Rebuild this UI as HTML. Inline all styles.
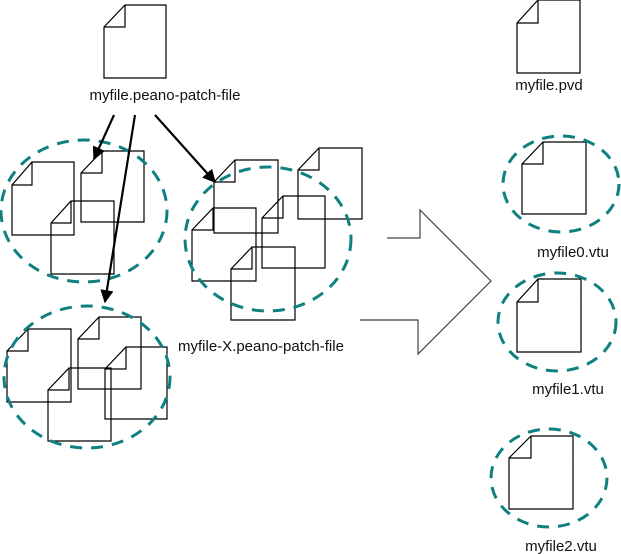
<!DOCTYPE html>
<html><head><meta charset="utf-8"><style>
html,body{margin:0;padding:0;background:#fff;}
svg{display:block;}
text{font-family:"Liberation Sans",sans-serif;font-size:15px;fill:#111;}
</style></head><body>
<svg width="621" height="554" viewBox="0 0 621 554" xmlns="http://www.w3.org/2000/svg">
<defs>
<marker id="ah" viewBox="0 0 10 10" refX="9" refY="5" markerWidth="6" markerHeight="6" orient="auto"><path d="M0,0 L10,5 L0,10 z" fill="#000"/></marker>
</defs>
<g fill="none" stroke="#000" stroke-width="1.2">
<path d="M125,5H166V78H104V27Z M125,5V27H104"/>
<path d="M538,0H580V73H517V23Z M538,0V23H517"/>
<path d="M543,142H586V214H522V164Z M543,142V164H522"/>
<path d="M538,279H581V352H517V302Z M538,279V302H517"/>
<path d="M531,436H573V509H509V458Z M531,436V458H509"/>
<path d="M32,162H74V235H12V185Z M32,162V185H12"/>
<path d="M102,151H144V222H81V173Z M102,151V173H81"/>
<path d="M71,201H114V274H51V223Z M71,201V223H51"/>
<path d="M28,329H71V402H7V351Z M28,329V351H7"/>
<path d="M99,317H141V389H78V339Z M99,317V339H78"/>
<path d="M69,368H111V441H48V390Z M69,368V390H48"/>
<path d="M126,347H167V419H105V369Z M126,347V369H105"/>
<path d="M235,160H278V233H214V182Z M235,160V182H214"/>
<path d="M319,148H362V219H298V170Z M319,148V170H298"/>
<path d="M213,208H256V281H192V230Z M213,208V230H192"/>
<path d="M283,196H325V268H262V218Z M283,196V218H262"/>
<path d="M252,247H295V320H231V269Z M252,247V269H231"/>
<path d="M387,238H420V210L491,281L418,354V320H360" stroke="#444"/>
</g>
<g fill="none" stroke="#0e8080" stroke-width="3" stroke-dasharray="12 9">
<ellipse cx="84" cy="211" rx="83" ry="71"/>
<ellipse cx="87" cy="377" rx="83" ry="71"/>
<ellipse cx="268" cy="239" rx="83" ry="72"/>
<ellipse cx="561" cy="184" rx="58" ry="48"/>
<ellipse cx="557" cy="322" rx="59" ry="49"/>
<ellipse cx="549" cy="478" rx="58" ry="49"/>
</g>
<g stroke="#000" stroke-width="2.2" marker-end="url(#ah)">
<line x1="114" y1="115" x2="94" y2="159"/>
<line x1="135" y1="115" x2="105" y2="302"/>
<line x1="155" y1="115" x2="215" y2="182"/>
</g>
<text x="165" y="100" text-anchor="middle">myfile.peano-patch-file</text>
<text x="178" y="351">myfile-X.peano-patch-file</text>
<text x="549" y="90" text-anchor="middle">myfile.pvd</text>
<text x="573" y="257" text-anchor="middle">myfile0.vtu</text>
<text x="568" y="394" text-anchor="middle">myfile1.vtu</text>
<text x="561" y="551" text-anchor="middle">myfile2.vtu</text>
</svg>
</body></html>
